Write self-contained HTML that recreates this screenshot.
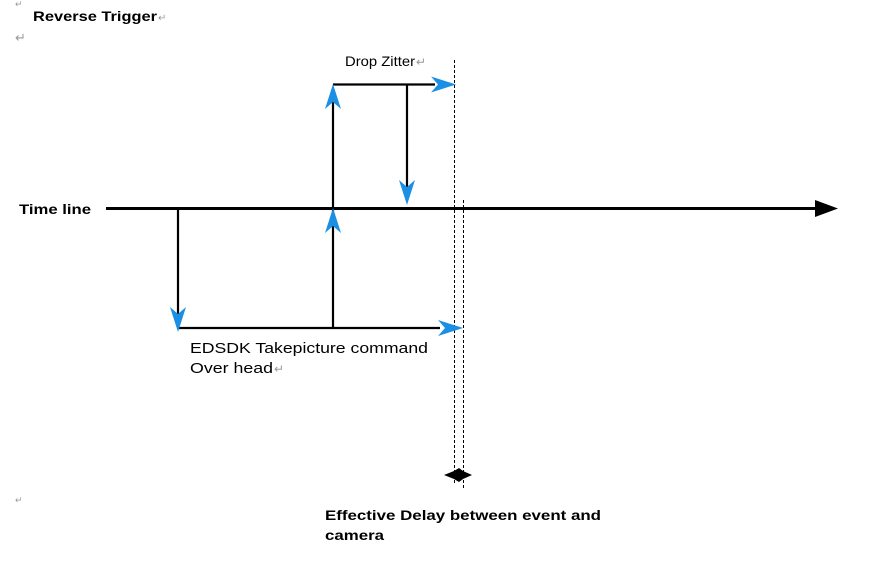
<!DOCTYPE html>
<html><head><style>body{margin:0;background:#fff}svg{display:block}</style></head>
<body>
<svg width="894" height="579" viewBox="0 0 894 579" xmlns="http://www.w3.org/2000/svg" font-family="Liberation Sans, sans-serif">
<defs>
<path id="bu" d="M0 0 L-8 25 L0 18 L8 25 Z" fill="#1a8fe3"/>
</defs>
<text x="15" y="7" font-size="9" fill="#999">↵</text>
<text x="33" y="21" font-size="14" font-weight="bold" textLength="124" lengthAdjust="spacingAndGlyphs">Reverse Trigger</text>
<text x="158" y="21" font-size="10" fill="#999">↵</text>
<text x="15" y="42" font-size="13" fill="#999">↵</text>
<text x="345" y="66" font-size="14" textLength="70" lengthAdjust="spacingAndGlyphs">Drop Zitter</text>
<text x="416" y="66" font-size="12" fill="#999">↵</text>
<text x="19" y="214" font-size="14" font-weight="bold" textLength="72" lengthAdjust="spacingAndGlyphs">Time line</text>
<text x="190" y="353" font-size="15" textLength="238" lengthAdjust="spacingAndGlyphs">EDSDK Takepicture command</text>
<text x="190" y="373" font-size="15" textLength="83" lengthAdjust="spacingAndGlyphs">Over head</text>
<text x="274" y="373" font-size="12" fill="#999">↵</text>
<text x="15" y="503" font-size="9" fill="#999">↵</text>
<text x="325" y="520" font-size="14" font-weight="bold" textLength="276" lengthAdjust="spacingAndGlyphs">Effective Delay between event and</text>
<text x="325" y="540" font-size="14" font-weight="bold" textLength="59" lengthAdjust="spacingAndGlyphs">camera</text>
<line x1="454.5" y1="60" x2="454.5" y2="485" stroke="#000" stroke-width="1" stroke-dasharray="3,2"/>
<line x1="463.5" y1="200" x2="463.5" y2="490" stroke="#000" stroke-width="1" stroke-dasharray="3,2"/>
<line x1="106" y1="208.5" x2="817" y2="208.5" stroke="#000" stroke-width="3"/>
<path d="M815 200 L838 208.5 L815 217 Z" fill="#000"/>
<g stroke="#000" stroke-width="2.2" fill="none">
<line x1="178" y1="208" x2="178" y2="318"/>
<line x1="177" y1="328" x2="440" y2="328"/>
<line x1="333" y1="328" x2="333" y2="100"/>
<line x1="333" y1="84.5" x2="435" y2="84.5"/>
<line x1="407" y1="84" x2="407" y2="188"/>
</g>
<use href="#bu" transform="translate(333,84)"/>
<use href="#bu" transform="translate(333,208)"/>
<use href="#bu" transform="translate(407,205) rotate(180)"/>
<use href="#bu" transform="translate(178,332) rotate(180)"/>
<use href="#bu" transform="translate(456,84.5) rotate(90)"/>
<use href="#bu" transform="translate(463,328) rotate(90)"/>
<path d="M444 475 L454 471 L459 468 L463 471 L472 475 L463 479 L459 482 L454 479 Z" fill="#000"/>
</svg>
</body></html>
